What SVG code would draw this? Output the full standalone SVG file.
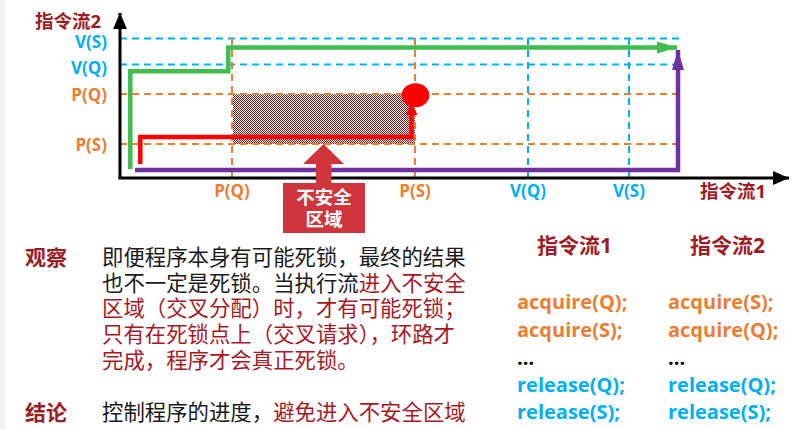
<svg xmlns="http://www.w3.org/2000/svg" width="798" height="429" viewBox="0 0 798 429">
  <style>
    .lat { font-family: "Open Sans", "Noto Sans CJK SC", sans-serif; font-weight: 700; }
    .cjk { font-family: "Noto Sans CJK SC", sans-serif; }
    .title { fill: #9E1C24; font-weight: 700; }
    .body { font-size: 21.4px; fill: #1a1a1a; }
    .hl { fill: #A8191F; }
    .orange { fill: #ED7D31; }
    .blue { fill: #00B0F0; }
    .grid-o { stroke: #ED7D31; stroke-width: 2; stroke-dasharray: 7 5; fill: none; }
    .grid-b { stroke: #00B0F0; stroke-width: 2; stroke-dasharray: 7 5; fill: none; }
    .axis { stroke: #000; stroke-width: 3; fill: none; }
    .flow { fill: none; stroke-width: 4.5; stroke-linejoin: miter; }
  </style>
  <defs>
    <pattern id="hatch" width="2" height="2" patternUnits="userSpaceOnUse">
      <rect width="2" height="2" fill="#ffffff"/>
      <rect width="1" height="1" fill="#8C1414"/>
      <rect x="1" y="1" width="1" height="1" fill="#8C1414"/>
    </pattern>
    <marker id="ahBlack" viewBox="0 0 16 14" refX="16" refY="7" markerWidth="16" markerHeight="14" markerUnits="userSpaceOnUse" orient="auto">
      <path d="M0,0 L16,7 L0,14 Z" fill="#000"/>
    </marker>
    <marker id="ahGreen" viewBox="0 0 20 12" refX="20" refY="6" markerWidth="20" markerHeight="12" markerUnits="userSpaceOnUse" orient="auto">
      <path d="M0,0 L20,6 L0,12 Z" fill="#3DBE4E"/>
    </marker>
    <marker id="ahPurple" viewBox="0 0 20 12" refX="20" refY="6" markerWidth="20" markerHeight="12" markerUnits="userSpaceOnUse" orient="auto">
      <path d="M0,0 L20,6 L0,12 Z" fill="#7030A0"/>
    </marker>
    <marker id="ahRed" viewBox="0 0 12 12" refX="12" refY="6" markerWidth="12" markerHeight="12" markerUnits="userSpaceOnUse" orient="auto">
      <path d="M0,0 L12,6 L0,12 Z" fill="#FF0000"/>
    </marker>
  </defs>

  <rect width="798" height="429" fill="#ffffff"/>
  <rect x="0" y="0" width="5" height="429" fill="#f2f2f2"/>

  <!-- unsafe region -->
  <g id="unsafe-region">
    <rect x="233" y="94" width="182" height="50" fill="url(#hatch)"/>
  </g>

  <!-- grid of operation points -->
  <g id="grid">
    <line class="grid-b" x1="120" y1="38.5" x2="683" y2="38.5"/>
    <line class="grid-b" x1="120" y1="64.5" x2="683" y2="64.5"/>
    <line class="grid-o" x1="120" y1="94" x2="683" y2="94"/>
    <line class="grid-o" x1="120" y1="144" x2="683" y2="144"/>
    <line class="grid-o" x1="232" y1="38" x2="232" y2="178"/>
    <line class="grid-o" x1="415" y1="38" x2="415" y2="178"/>
    <line class="grid-b" x1="528" y1="38" x2="528" y2="178"/>
    <line class="grid-b" x1="629" y1="38" x2="629" y2="178"/>
  </g>

  <!-- axes -->
  <g id="axes">
    <line class="axis" x1="120" y1="179" x2="120" y2="13" marker-end="url(#ahBlack)"/>
    <line class="axis" x1="118.5" y1="178" x2="789" y2="178" marker-end="url(#ahBlack)"/>
  </g>

  <!-- execution paths -->
  <g id="connectors">
    <path class="flow" stroke="#3DBE4E" d="M130.3,169 V71.3 H228.3 V47.5 H677" marker-end="url(#ahGreen)"/>
    <path class="flow" stroke="#7030A0" d="M135,170 H678 V50" marker-end="url(#ahPurple)"/>
    <path class="flow" stroke="#FF0000" d="M140.3,164 V137 H411.5 V103" marker-end="url(#ahRed)"/>
  </g>

  <g id="deadlock-point">
    <ellipse cx="415.5" cy="95.3" rx="13.8" ry="12" fill="#FF0000"/>
  </g>

  <!-- axis labels -->
  <g id="y-labels" class="lat" font-size="17" text-anchor="end">
    <text x="107" y="47.5" class="blue">V(S)</text>
    <text x="107" y="74" class="blue">V(Q)</text>
    <text x="107" y="100.5" class="orange">P(Q)</text>
    <text x="107" y="151" class="orange">P(S)</text>
  </g>
  <g id="x-labels" class="lat" font-size="17" text-anchor="middle">
    <text x="232" y="197" class="orange">P(Q)</text>
    <text x="415" y="197" class="orange">P(S)</text>
    <text x="528" y="197" class="blue">V(Q)</text>
    <text x="629" y="197" class="blue">V(S)</text>
  </g>
  <g id="axis-titles">
    <text x="35" y="28" class="lat title" font-size="18.5">指令流2</text>
    <text x="700" y="197.5" class="lat title" font-size="18.5">指令流1</text>
  </g>

  <!-- unsafe region callout -->
  <g id="unsafe-callout">
    <polygon points="323.5,144 344,164 331.5,164 331.5,184 316,184 316,164 303,164" fill="#D0343C"/>
    <rect x="283" y="183" width="82" height="50" fill="#D0343C"/>
    <text x="324" y="203.5" class="cjk" font-size="18.5" font-weight="700" fill="#ffffff" text-anchor="middle">不安全</text>
    <text x="324" y="226" class="cjk" font-size="18.5" font-weight="700" fill="#ffffff" text-anchor="middle">区域</text>
  </g>

  <!-- observation -->
  <g id="observation">
    <text x="25" y="265" class="cjk title" font-size="21">观察</text>
    <text x="102" y="264.7" class="cjk body">即便程序本身有可能死锁，最终的结果</text>
    <text x="102" y="290.5" class="cjk body">也不一定是死锁。当执行流<tspan class="hl">进入不安全</tspan></text>
    <text x="102" y="316.3" class="cjk body hl">区域（交叉分配）时，才有可能死锁；</text>
    <text x="102" y="342.1" class="cjk body hl">只有在死锁点上（交叉请求），环路才</text>
    <text x="102" y="367.9" class="cjk body hl">完成，程序才会真正死锁。</text>
  </g>

  <!-- conclusion -->
  <g id="conclusion">
    <text x="25" y="420" class="cjk title" font-size="21">结论</text>
    <text x="102" y="420" class="cjk body">控制程序的进度，<tspan class="hl">避免进入不安全区域</tspan></text>
  </g>

  <!-- instruction stream 1 -->
  <g id="stream1" class="lat" font-size="20">
    <text x="537" y="253" class="title" font-size="21">指令流1</text>
    <text x="517" y="309" class="orange">acquire(Q);</text>
    <text x="517" y="337" class="orange">acquire(S);</text>
    <text x="517" y="365" fill="#000">...</text>
    <text x="517" y="392" class="blue">release(Q);</text>
    <text x="517" y="419" class="blue">release(S);</text>
  </g>

  <!-- instruction stream 2 -->
  <g id="stream2" class="lat" font-size="20">
    <text x="690" y="253" class="title" font-size="21">指令流2</text>
    <text x="668" y="309" class="orange">acquire(S);</text>
    <text x="668" y="337" class="orange">acquire(Q);</text>
    <text x="668" y="365" fill="#000">...</text>
    <text x="668" y="392" class="blue">release(Q);</text>
    <text x="668" y="419" class="blue">release(S);</text>
  </g>
</svg>
